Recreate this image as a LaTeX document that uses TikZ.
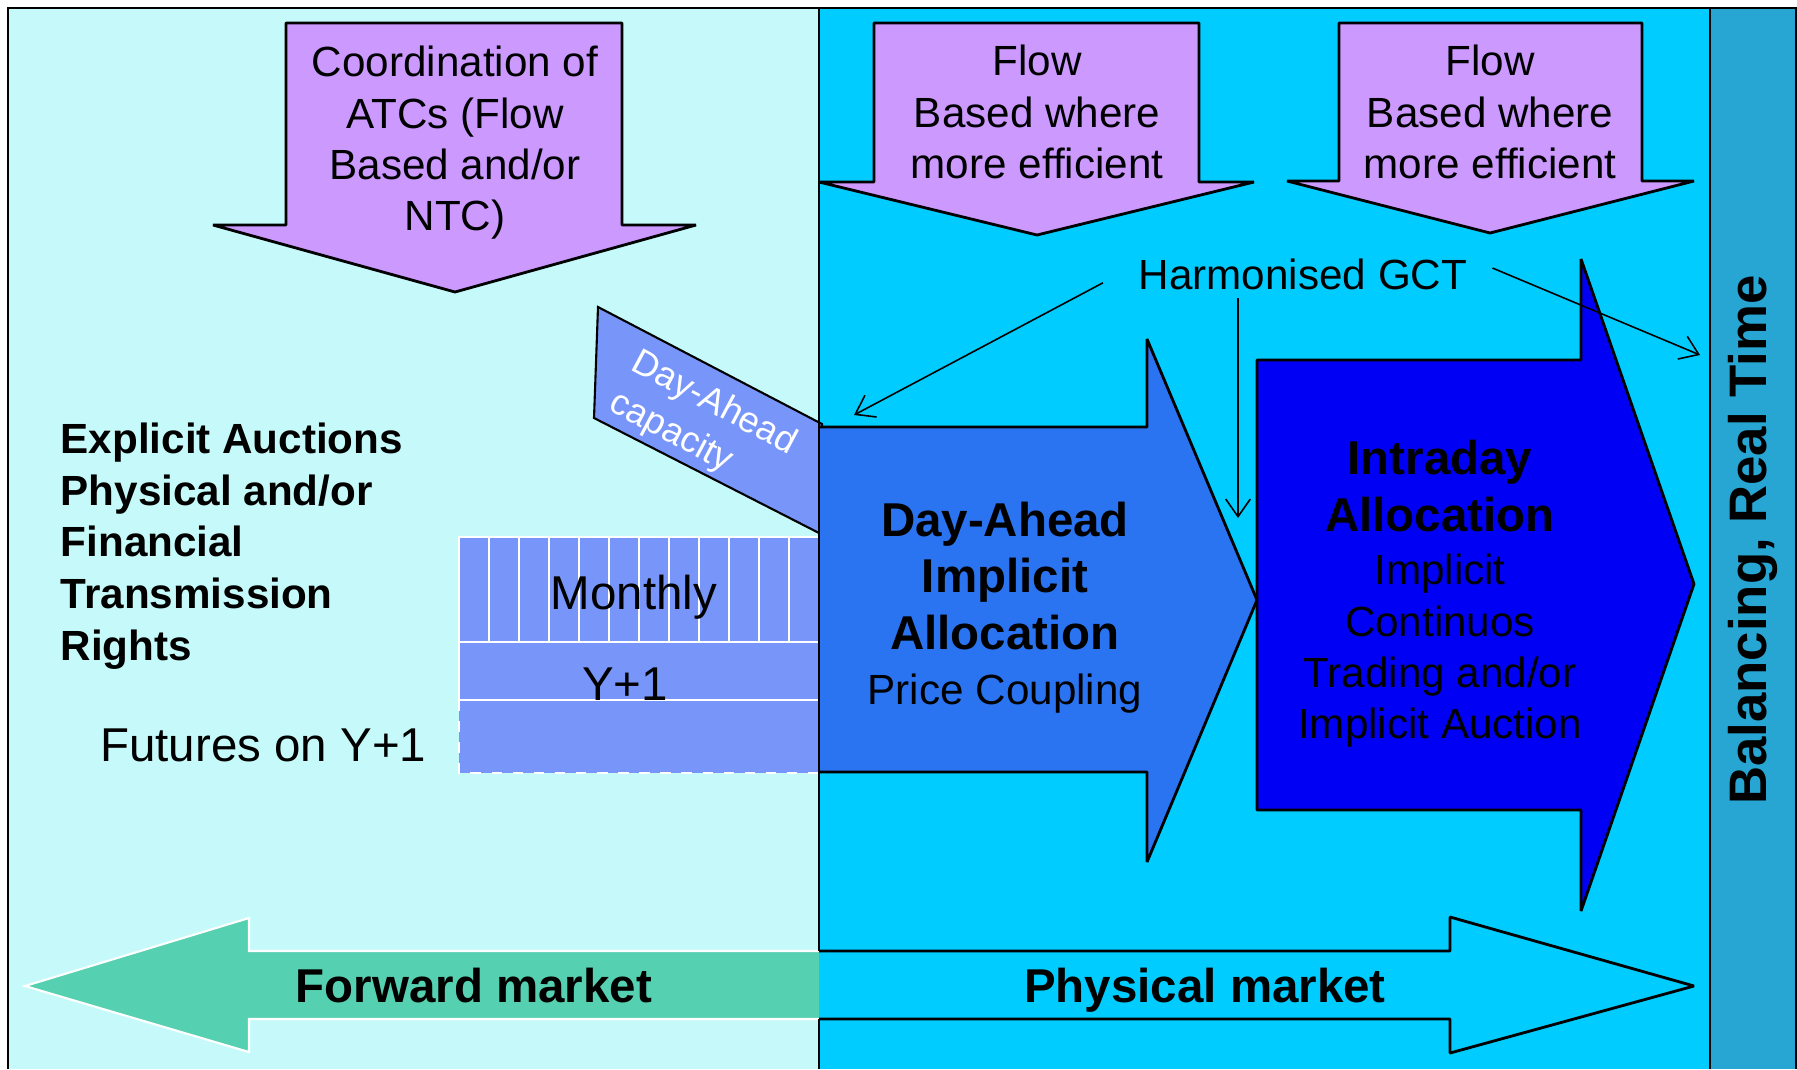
\documentclass[tikz,border=0pt]{standalone}
\usepackage{fontspec}
\setmainfont{Liberation Sans}
\usepackage{tikz}
\usetikzlibrary{arrows.meta,positioning,calc}
\definecolor{PaleCyan}{HTML}{C6FAFA}
\definecolor{SkyCyan}{HTML}{00CCFF}
\definecolor{ArrowPurple}{HTML}{CC99FF}
\definecolor{DayBlue}{HTML}{2A74F2}
\definecolor{BlockBlue}{HTML}{7896FA}
\definecolor{IntraBlue}{HTML}{0000F5}
\definecolor{FwdTeal}{HTML}{55D0B0}
\definecolor{StripTeal}{HTML}{27A6D3}
\tikzset{
  downarrow/.style={draw=black,fill=ArrowPurple,line width=0.8pt,line join=bevel},
  marketarrow/.style={draw=black,line width=0.8pt,line join=bevel},
  whiteline/.style={draw=white,line width=0.6pt},
  gctarrow/.style={-{Straight Barb[length=5pt,width=7pt]},line width=0.45pt},
  bodytext/.style={font=\fontsize{12}{14.6}\selectfont,align=center,inner sep=0pt},
  bigtext/.style={font=\fontsize{13.5}{16}\selectfont,align=center,inner sep=0pt},
  boldtext/.style={font=\fontsize{13.5}{16.2}\selectfont\bfseries,align=center,inner sep=0pt},
}

\begin{document}
\begin{tikzpicture}[x=0.01cm, y=-0.01cm]
  \useasboundingbox (0,0) rectangle (1797,1069);

  % Panels
  \fill[white] (0,0) rectangle (1797,1069);
  \fill[PaleCyan] (8,8) rectangle (819,1069);
  \fill[SkyCyan] (819,8) rectangle (1710,1069);
  \fill[StripTeal] (1710,8) rectangle (1796,1069);
  \draw[line width=0.6pt] (8,1069) -- (8,8) -- (1796,8) -- (1796,1069);
  \draw[line width=0.5pt] (1710,8) -- (1710,1069);

  % Arrows from the top
  \draw[downarrow] (286,23) -- (622,23) -- (622,225) -- (696,225) -- (455,292) -- (213,225) -- (286,225) -- cycle;
  \draw[downarrow] (874,23) -- (1199,23) -- (1199,182) -- (1254,182) -- (1037,235) -- (819,182) -- (874,182) -- cycle;
  \draw[downarrow] (1339,23) -- (1642,23) -- (1642,181) -- (1694,181) -- (1490,233) -- (1287,181) -- (1339,181) -- cycle;
  \node[bodytext] (atc) at (455,143) {Coordination of\\ATCs (Flow\\Based and/or\\NTC)};
  \node[bodytext] (flowda) at (1037,112) {Flow\\Based where\\more efficient};
  \node[bodytext] (flowid) at (1490,112) {Flow\\Based where\\more efficient};

  % Forward and physical market
  \fill[FwdTeal] (819,951) -- (249,951) -- (249,918) -- (25,986) -- (249,1052) -- (249,1019) -- (819,1019) -- cycle;
  \draw[whiteline] (819,951) -- (249,951) -- (249,918) -- (25,986) -- (249,1052) -- (249,1019) -- (819,1019);
  \draw[marketarrow,fill=SkyCyan] (819,951) -- (1450,951) -- (1450,917) -- (1694,986) -- (1450,1053) -- (1450,1019) -- (819,1019);
  \node[boldtext] (fwd) at (474,986) {Forward market};
  \node[boldtext] (phys) at (1205,990) {Physical market};

  % Explicit auctions
  \node[bodytext,font=\fontsize{12}{14.7}\selectfont\bfseries,align=left,anchor=west] (expl) at (60,546) {Explicit Auctions\\Physical and/or\\Financial\\Transmission\\Rights};

  % Forward products
  \fill[BlockBlue] (459,537) rectangle (819,773);
  \draw[whiteline] (459,537) rectangle (819,642);
  \foreach \m in {1,...,11}
    \draw[whiteline] ({459+30*\m},537) -- ({459+30*\m},642);
  \draw[whiteline] (459,642) rectangle (822,700);
  \draw[whiteline,dashed] (459,700) rectangle (822,773);
  \node[bigtext] (monthly) at (634,597) {Monthly};
  \node[bigtext] (year) at (625,684) {Y+1};
  \node[bigtext,anchor=east] (futures) at (427,745) {Futures on Y+1};

  % Day-ahead capacity
  \draw[fill=BlockBlue,line width=0.6pt] (598,307) -- (822,424) -- (819,533) -- (594,418) -- cycle;
  \node[font=\fontsize{10.3}{13}\selectfont,text=white,align=left,rotate=-28,inner sep=0pt] (dacap) at (703,424) {Day-Ahead\\capacity};

  % Day-ahead allocation
  \draw[marketarrow,fill=DayBlue] (819,427) -- (1147,427) -- (1147,339) -- (1257,600) -- (1147,862) -- (1147,772) -- (819,772);
  \node[boldtext] (daname) at (1005,576) {Day-Ahead\\Implicit\\Allocation};
  \node[bodytext] (coupling) at (1005,694) {Price Coupling};

  % Intraday allocation
  \draw[marketarrow,fill=IntraBlue] (1257,360) -- (1581,360) -- (1581,259) -- (1694,584) -- (1581,911) -- (1581,810) -- (1257,810) -- cycle;
  \node[boldtext] (idname) at (1440,486) {Intraday\\Allocation};
  \node[bodytext] (idtext) at (1440,651) {Implicit\\Continuos\\Trading and/or\\Implicit Auction};

  % Divider
  \draw[line width=0.5pt] (819,8) -- (819,951);
  \draw[line width=0.5pt] (819,1019) -- (819,1069);

  % Gate closure
  \node[bodytext] (gct) at (1303,274) {Harmonised GCT};
  \coordinate (daTop) at (854,415);
  \coordinate (idTop) at (1238,518);
  \coordinate (rtEnd) at (1700,355);
  \draw[gctarrow] ([xshift=-10pt,yshift=-2.5pt]gct.west) -- (daTop);
  \draw[gctarrow] ($(gct.south -| idTop)+(0,8)$) -- (idTop);
  \draw[gctarrow] ([xshift=7pt,yshift=1.7pt]gct.east) -- (rtEnd);

  % Balancing
  \node[font=\fontsize{15}{18}\selectfont\bfseries,rotate=90,inner sep=0pt] (bal) at (1753,540) {Balancing, Real Time};
\end{tikzpicture}
\end{document}
